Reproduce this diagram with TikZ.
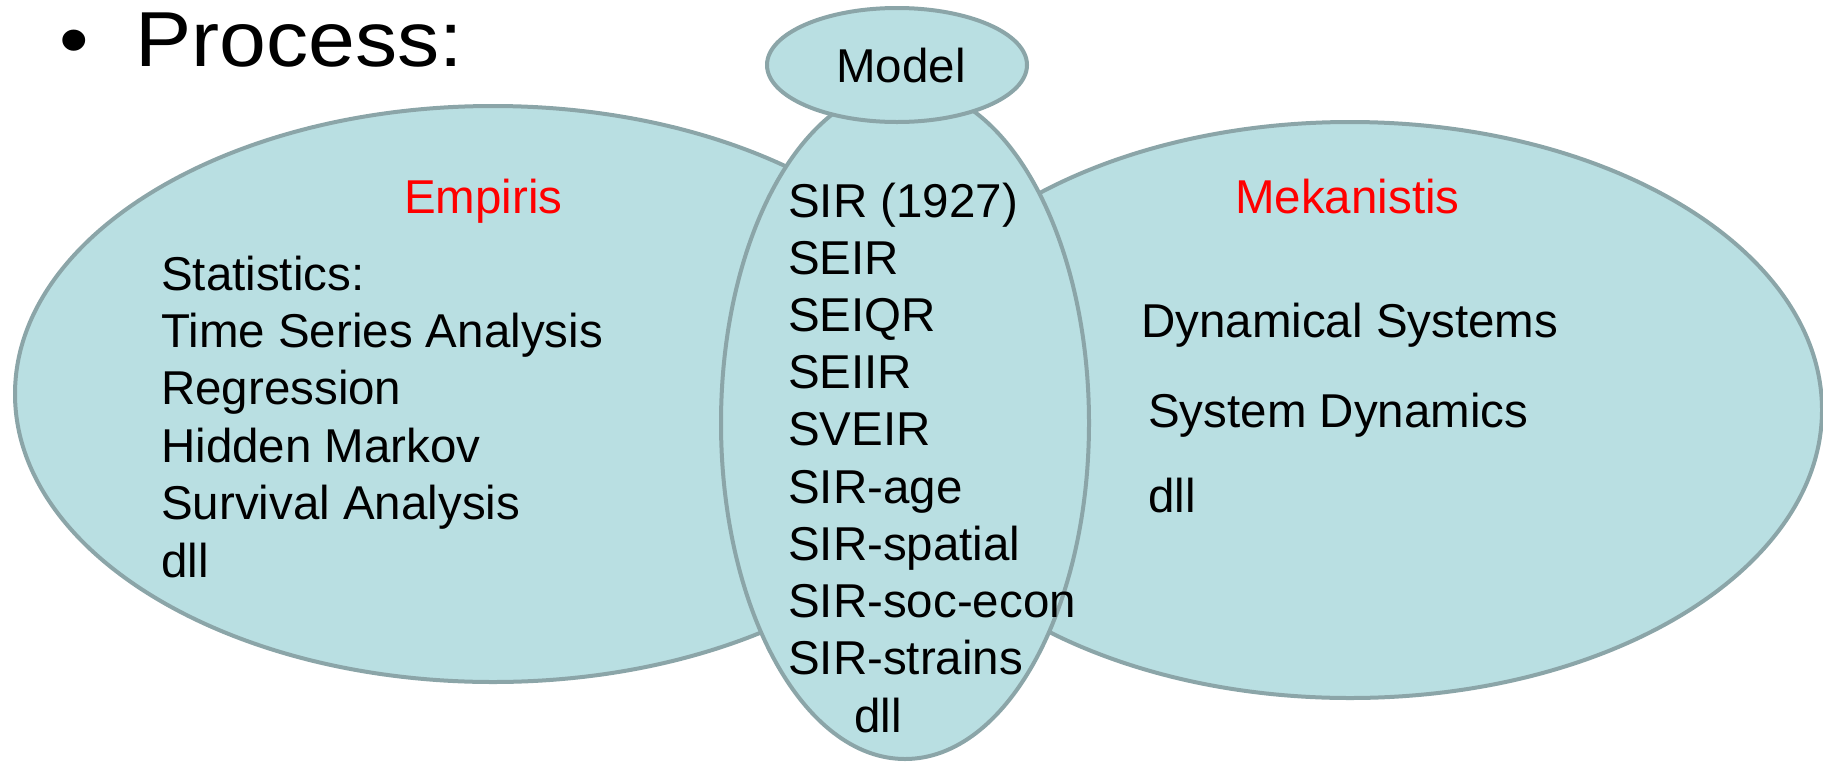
\documentclass[tikz,border=0pt]{standalone}
\usepackage{fontspec}
\setmainfont{Liberation Sans}
\usetikzlibrary{shapes.geometric}

\definecolor{blobfill}{RGB}{185,223,226}
\definecolor{blobline}{RGB}{139,165,168}
\definecolor{headred}{RGB}{255,0,0}

\tikzset{
  blob/.style={ellipse, draw=blobline, fill=blobfill, line width=4pt, inner sep=0pt},
  item/.style={anchor=base west, inner sep=0pt, font=\fontsize{47.5}{57}\selectfont},
  head/.style={item, text=headred},
  big/.style={anchor=base west, inner sep=0pt, font=\fontsize{78}{94}\selectfont},
}

\begin{document}
\begin{tikzpicture}[x=1pt, y=-1pt]
  \useasboundingbox (0,0) rectangle (1823,761);

  % title line
  \node[big] (bullet) at (59,66) {\scalebox{1.08}[1]{•}};
  \node[big] (title) at (135,66) {\scalebox{1.08}[1]{Process:}};

  % the three overlapping regions and the label bubble
  \node[blob, minimum width=956pt, minimum height=576pt] (emp) at (493,394) {};
  \node[blob, minimum width=944pt, minimum height=576pt] (mek) at (1350,410) {};
  \node[blob, minimum width=368pt, minimum height=672pt] (mod) at (905,423) {};
  \node[blob, minimum width=260pt, minimum height=114pt] (lbl) at (897,65) {};
  \node[item] (lbltext) at (836,82) {Model};

  % headings
  \node[head] (emphead) at (404,213) {Empiris};
  \node[head] (mekhead) at (1235,213) {Mekanistis};

  % empirical methods
  \foreach \t [count=\i from 0] in {Statistics:, Time Series Analysis, Regression, Hidden Markov, Survival Analysis, dll}
    \node[item] (e\i) at (161, 290+57.4*\i) {\t};

  % model family
  \foreach \t [count=\i from 0] in {SIR (1927), SEIR, SEIQR, SEIIR, SVEIR, SIR-age, SIR-spatial, SIR-soc-econ, SIR-strains}
    \node[item] (m\i) at (788, 217+57.2*\i) {\t};
  \node[item] (m9) at (854,732) {dll};

  % mechanistic methods
  \node[item] (k0) at (1141,337) {Dynamical Systems};
  \node[item] (k1) at (1148,427) {System Dynamics};
  \node[item] (k2) at (1148,512) {dll};
\end{tikzpicture}
\end{document}
